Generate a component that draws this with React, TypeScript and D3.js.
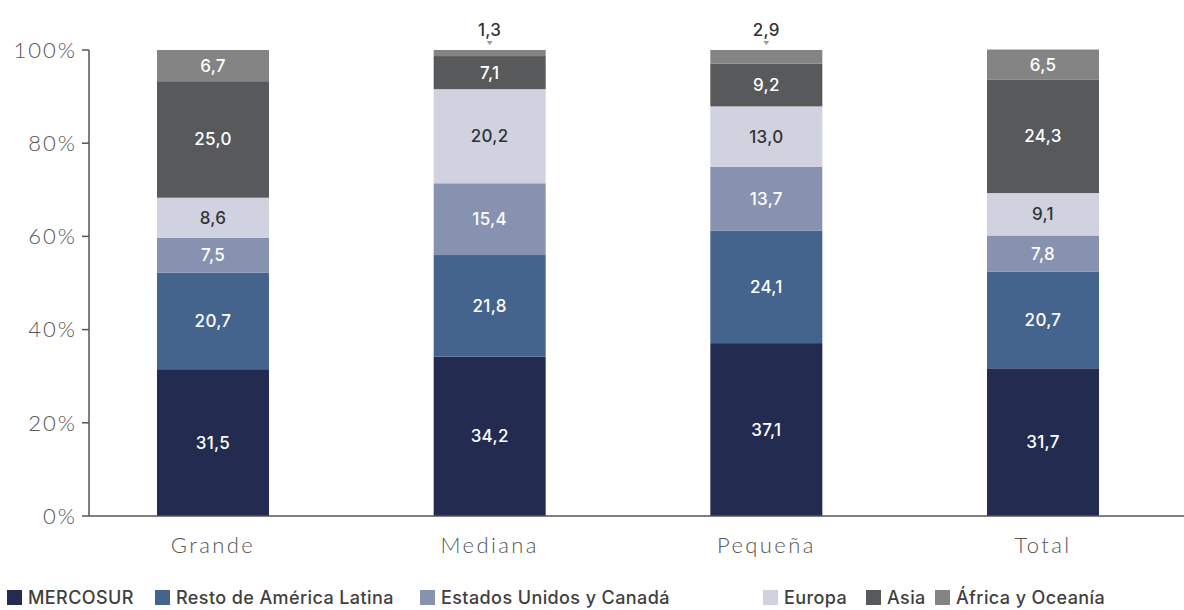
import * as d3 from "d3";

const categories = ["Grande", "Mediana", "Pequeña", "Total"];
const seriesNames = [
  "MERCOSUR",
  "Resto de América Latina",
  "Estados Unidos y Canadá",
  "Europa",
  "Asia",
  "África y Oceanía",
];
const mercosur = [31.5, 34.2, 37.1, 31.7];
const restoAL = [20.7, 21.8, 24.1, 20.7];
const eeuu = [7.5, 15.4, 13.7, 7.8];
const europa = [8.6, 20.2, 13.0, 9.1];
const asia = [25.0, 7.1, 9.2, 24.3];
const africa = [6.7, 1.3, 2.9, 6.5];
const yTicks = [0, 20, 40, 60, 80, 100];

const colors = ["#232c50", "#45648d", "#8791b0", "#d0d2df", "#58595b", "#848484"];
const textColors = ["#fff", "#fff", "#fff", "#333", "#fff", "#fff"];
const legendX = [7, 155, 420, 763, 866, 935];

const W = 1184;
const H = 610;

export default function App() {
  const series = [mercosur, restoAL, eeuu, europa, asia, africa];
  const rows = categories.map((c, i) => {
    const r: any = { cat: c };
    seriesNames.forEach((s, j) => (r[s] = series[j][i]));
    return r;
  });
  const stacked = d3.stack<any>().keys(seriesNames)(rows);

  const x = d3.scalePoint<string>().domain(categories).range([213, 1043]);
  const y = d3.scaleLinear().domain([0, 100]).range([516, 50]);
  const bw = 112;
  const fmt = (v: number) => v.toFixed(1).replace(".", ",");
  const light = "Lato, 'Open Sans', sans-serif";

  return (
    <svg width={W} height={H} style={{ position: "absolute", left: 0, top: 0 }} fontFamily="Inter, 'Open Sans', sans-serif">
      {stacked.map((s, j) =>
        s.map((d, i) => {
          const cx = x(categories[i])!;
          const y0 = y(d[0]);
          const y1 = y(d[1]);
          const v = series[j][i];
          const small = v < 4;
          return (
            <g key={`${j}-${i}`}>
              <rect x={cx - bw / 2} y={y1} width={bw} height={y0 - y1} fill={colors[j]} />
              {small ? (
                <g>
                  <text x={cx} y={36} textAnchor="middle" fontSize={17} fontWeight={500} letterSpacing={0.3} fill="#333">
                    {fmt(v)}
                  </text>
                  <path d={`M${cx - 3},${41}L${cx + 3},${41}L${cx},${45}Z`} fill="#999" />
                </g>
              ) : (
                <text
                  x={cx}
                  y={(y0 + y1) / 2}
                  dy="0.35em"
                  textAnchor="middle"
                  fontSize={17}
                  fontWeight={500}
                  letterSpacing={0.3}
                  fill={textColors[j]}
                >
                  {fmt(v)}
                </text>
              )}
            </g>
          );
        })
      )}
      {/* axes */}
      <line x1={89} x2={89} y1={y(100)} y2={y(0)} stroke="#555" strokeWidth={1.5} />
      <line x1={89} x2={W} y1={y(0)} y2={y(0)} stroke="#555" strokeWidth={1.5} />
      {yTicks.map((t) => (
        <g key={t}>
          <line x1={82} x2={89} y1={y(t)} y2={y(t)} stroke="#555" strokeWidth={1.5} />
          <text x={77} y={y(t)} dy="0.35em" textAnchor="end" fontFamily={light} fontSize={22} fontWeight={300} letterSpacing={2} fill="#555">
            {t}%
          </text>
        </g>
      ))}
      {categories.map((c) => (
        <text key={c} x={x(c)} y={553} textAnchor="middle" fontFamily={light} fontSize={22} fontWeight={300} letterSpacing={2.4} fill="#555">
          {c}
        </text>
      ))}
      {seriesNames.map((s, j) => (
        <g key={s}>
          <rect x={legendX[j]} y={590} width={15} height={15} fill={colors[j]} />
          <text x={legendX[j] + 21} y={604} fontSize={18} fontWeight={500} letterSpacing={0.4} fill="#404040">
            {s}
          </text>
        </g>
      ))}
    </svg>
  );
}
